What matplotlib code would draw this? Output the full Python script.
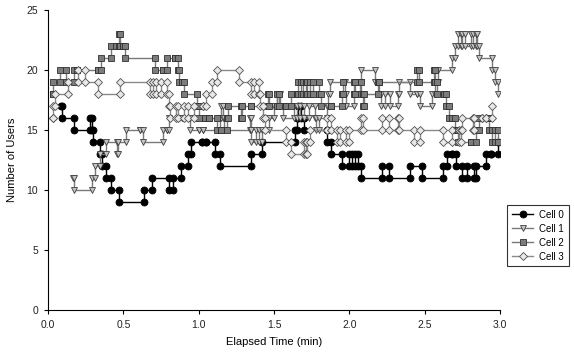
import numpy as np
import matplotlib
matplotlib.use('Agg')
import matplotlib.pyplot as plt

plt.rcParams['font.family'] = ['Liberation Sans', 'DejaVu Sans']
plt.rcParams['font.size'] = 7.5

# step events: (time in min, number of users after the event)
cell0_t = [0.085, 0.09, 0.17, 0.28, 0.29, 0.30, 0.345, 0.36, 0.385, 0.42, 0.47, 0.64, 0.69,
           0.80, 0.83, 0.88, 0.93, 0.95, 1.02, 1.05, 1.11, 1.14, 1.35, 1.42, 1.64, 1.65,
           1.66, 1.68, 1.70, 1.85, 1.88, 1.95, 2.00, 2.02, 2.04, 2.06, 2.08, 2.22, 2.26,
           2.40, 2.48, 2.62, 2.65, 2.68, 2.71, 2.75, 2.78, 2.83, 2.84, 2.91, 2.94, 2.99]
cell0_v = [17, 16, 15, 16, 15, 14, 13, 12, 11, 10, 9, 10, 11,
           10, 11, 12, 13, 14, 14, 14, 13, 12, 13, 14, 15, 16,
           17, 16, 15, 14, 13, 12, 13, 12, 13, 12, 11, 12, 11,
           12, 11, 12, 13, 13, 12, 11, 12, 11, 12, 13, 13, 14]

cell1_t = [0.166, 0.17, 0.29, 0.31, 0.345, 0.385, 0.46, 0.465, 0.52, 0.61, 0.63, 0.76, 0.79,
           0.80, 0.87, 0.89, 0.94, 1.00, 1.03, 1.14, 1.145, 1.16, 1.17, 1.34, 1.345, 1.35,
           1.38, 1.40, 1.42, 1.47, 1.50, 1.52, 1.54, 1.56, 1.63, 1.65, 1.67, 1.70, 1.73,
           1.77, 1.78, 1.80, 1.85, 1.86, 1.87, 1.97, 1.98, 2.03, 2.07, 2.08, 2.17, 2.20,
           2.21, 2.24, 2.27, 2.32, 2.33, 2.40, 2.45, 2.47, 2.55, 2.57, 2.59, 2.68, 2.70,
           2.72, 2.74, 2.75, 2.77, 2.81, 2.82, 2.84, 2.85, 2.86, 2.95, 2.97, 2.99]
cell1_v = [11, 10, 11, 12, 13, 14, 13, 14, 15, 15, 14, 15, 15,
           16, 16, 16, 15, 15, 15, 16, 17, 16, 15, 16, 15, 14,
           15, 14, 15, 16, 17, 18, 17, 16, 17, 16, 17, 16, 17,
           16, 15, 16, 17, 18, 19, 18, 17, 18, 19, 20, 19, 18,
           17, 18, 17, 18, 19, 18, 18, 17, 18, 19, 20, 21, 22,
           23, 22, 23, 22, 23, 22, 23, 22, 21, 20, 19, 18]

cell2_t = [0.03, 0.035, 0.08, 0.12, 0.17, 0.19, 0.33, 0.35, 0.42, 0.45, 0.47, 0.48, 0.50,
           0.51, 0.71, 0.76, 0.79, 0.84, 0.86, 0.87, 0.89, 0.90, 0.99, 1.00, 1.04, 1.07,
           1.12, 1.15, 1.19, 1.195, 1.28, 1.285, 1.35, 1.46, 1.47, 1.52, 1.53, 1.58, 1.61,
           1.65, 1.66, 1.68, 1.69, 1.71, 1.72, 1.74, 1.76, 1.80, 1.81, 1.88, 1.95, 1.96,
           2.03, 2.04, 2.08, 2.09, 2.10, 2.19, 2.20, 2.45, 2.46, 2.56, 2.57, 2.58, 2.63,
           2.64, 2.66, 2.68, 2.70, 2.72, 2.81, 2.84, 2.86, 2.92, 2.93, 2.95, 2.97, 2.99]
cell2_v = [18, 19, 20, 19, 20, 20, 20, 21, 22, 22, 23, 22, 22,
           21, 20, 20, 21, 21, 20, 19, 19, 18, 17, 16, 16, 16,
           15, 15, 16, 17, 16, 17, 17, 18, 17, 18, 17, 17, 18,
           18, 19, 18, 19, 18, 19, 18, 19, 18, 17, 17, 18, 19,
           18, 19, 18, 17, 18, 19, 19, 20, 19, 20, 19, 18, 18,
           17, 16, 16, 15, 14, 14, 15, 16, 16, 15, 14, 15, 14]

cell3_t = [0.03, 0.033, 0.045, 0.13, 0.20, 0.245, 0.33, 0.48, 0.68, 0.70, 0.72, 0.75, 0.79,
           0.80, 0.81, 0.85, 0.86, 0.90, 0.93, 0.97, 1.03, 1.05, 1.09, 1.12, 1.27, 1.35,
           1.37, 1.40, 1.41, 1.43, 1.44, 1.58, 1.61, 1.70, 1.71, 1.72, 1.74, 1.85, 1.88,
           1.92, 1.94, 1.98, 2.00, 2.08, 2.09, 2.22, 2.26, 2.32, 2.33, 2.43, 2.47, 2.62,
           2.68, 2.73, 2.74, 2.75, 2.82, 2.83, 2.88, 2.91, 2.95]
cell3_v = [16, 17, 18, 19, 20, 19, 18, 19, 18, 19, 18, 19, 18,
           17, 16, 17, 16, 17, 16, 17, 17, 18, 19, 20, 19, 18,
           19, 18, 17, 16, 15, 14, 13, 14, 13, 14, 15, 16, 15,
           14, 15, 14, 15, 16, 15, 16, 15, 16, 15, 14, 15, 14,
           15, 14, 15, 16, 15, 16, 16, 16, 17]

labels = ['Cell 0', 'Cell 1', 'Cell 2', 'Cell 3']


def step_points(t, v):
    # draw each change as a vertical jump at the event time
    xs, ys = [t[0]], [v[0]]
    for i in range(1, len(t)):
        xs += [t[i], t[i]]
        ys += [v[i - 1], v[i]]
    return xs, ys


series = [(cell0_t, cell0_v), (cell1_t, cell1_v), (cell2_t, cell2_v), (cell3_t, cell3_v)]
styles = [
    dict(marker='o', ms=5, mfc='black', mec='black', color='black'),
    dict(marker='v', ms=5, mfc='#c4c4c4', mec='#404040', color='#7a7a7a'),
    dict(marker='s', ms=4.3, mfc='#7c7c7c', mec='#303030', color='#7a7a7a'),
    dict(marker='D', ms=4.3, mfc='#e8e8e8', mec='#505050', color='#8a8a8a'),
]

fig = plt.figure(figsize=(5.74, 3.58), dpi=100)
ax = fig.add_axes([48 / 574, 48 / 358, 452 / 574, 300 / 358])

for (t, v), st, lab in zip(series, styles, labels):
    xs, ys = step_points(t, v)
    ax.plot(xs, ys, lw=1, mew=0.6, label=lab, **st)

ax.set_xlim(0, 3.0)
ax.set_ylim(0, 25)
ax.set_xticks(np.arange(0, 3.01, 0.5))
ax.set_xticklabels(['{:.1f}'.format(x) for x in np.arange(0, 3.01, 0.5)])
ax.set_yticks(np.arange(0, 26, 5))
for s in ['top', 'right']:
    ax.spines[s].set_visible(False)
ax.tick_params(direction='out', length=3, width=0.8, pad=4, labelcolor='#222222')
ax.set_xlabel('Elapsed Time (min)', fontsize=8, labelpad=5)
ax.set_ylabel('Number of Users', fontsize=8, labelpad=7)

leg = fig.legend(loc='upper left', bbox_to_anchor=(507 / 574, 1 - 205 / 358),
                 fontsize=7, frameon=True, fancybox=False, handlelength=2.2,
                 borderpad=0.5, labelspacing=0.4, handletextpad=0.6, borderaxespad=0)
leg.get_frame().set_edgecolor('black')
leg.get_frame().set_linewidth(0.8)

plt.savefig('out.png', dpi=100)
